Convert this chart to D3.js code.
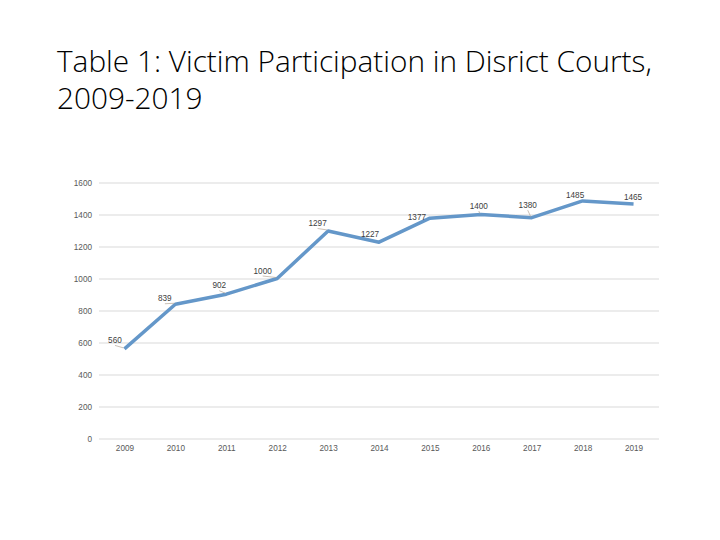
<!DOCTYPE html>
<html>
<head>
<meta charset="utf-8">
<script src="https://cdn.jsdelivr.net/npm/d3@7"></script>
<style>
  html, body { margin: 0; padding: 0; background: #fff; }
  svg { display: block; }
</style>
</head>
<body>
<svg id="chart" width="720" height="540"></svg>
<script>
// ---- data ----
const years = ["2009","2010","2011","2012","2013","2014","2015","2016","2017","2018","2019"];
const participation = [560, 839, 902, 1000, 1297, 1227, 1377, 1400, 1380, 1485, 1465];
const yTicks = [0, 200, 400, 600, 800, 1000, 1200, 1400, 1600];
const titleLines = ["Table 1: Victim Participation in Disrict Courts,", "2009-2019"];

// ---- layout (label placement offsets, not data) ----
const labelOffsets = [[-9.5,-6],[-10.5,-3],[-7,-6],[-14.5,-5],[-10.5,-5],[-9,-5],[-13,2],[-2,-6],[-4,-10],[-7.5,-3],[-0.5,-4]];
const showLeader = [true,true,true,true,true,false,false,true,true,false,false];

const svg = d3.select("#chart");
const margin = {left: 99, right: 61, top: 182.5, bottom: 101.5};
const W = 720, H = 540;

const x = d3.scalePoint().domain(years).range([margin.left, W - margin.right]).padding(0.5);
const y = d3.scaleLinear().domain([0, 1600]).range([H - margin.bottom, margin.top]);

// title
const title = svg.append("g");
const t1 = title.append("text")
  .attr("x", 57).attr("y", 72)
  .attr("font-family", "'Open Sans', sans-serif").attr("font-weight", 300)
  .attr("font-size", 30).attr("fill", "#000")
  .text(titleLines[0]);
const targetW = 595;
const w0 = t1.node().getComputedTextLength();
const fs = 30 * targetW / w0;
t1.attr("font-size", fs);
title.append("text")
  .attr("x", 57).attr("y", 109)
  .attr("font-family", "'Open Sans', sans-serif").attr("font-weight", 300)
  .attr("font-size", fs).attr("fill", "#000")
  .text(titleLines[1]);

// y axis gridlines & labels
const yAxis = d3.axisLeft(y).tickValues(yTicks).tickFormat(d3.format("d"))
  .tickSize(-(W - margin.left - margin.right)).tickPadding(7);
const gy = svg.append("g").attr("transform", `translate(${margin.left},0)`).call(yAxis);
gy.select(".domain").remove();
gy.selectAll(".tick line").attr("stroke", "#d9d9d9").attr("stroke-width", 1);
gy.selectAll(".tick text")
  .attr("font-family", "'Liberation Sans', Arial, sans-serif")
  .attr("font-size", 8.2).attr("fill", "#595959");

// x axis labels
const xAxis = d3.axisBottom(x).tickSize(0).tickPadding(7);
const gx = svg.append("g").attr("transform", `translate(0,${H - margin.bottom})`).call(xAxis);
gx.select(".domain").remove();
gx.selectAll(".tick text")
  .attr("font-family", "'Liberation Sans', Arial, sans-serif")
  .attr("font-size", 8.2).attr("fill", "#595959");

// line
const pts = years.map((yr, i) => ({yr, v: participation[i], i}));
const line = d3.line().x(d => x(d.yr)).y(d => y(d.v));
svg.append("path").datum(pts)
  .attr("d", line)
  .attr("fill", "none")
  .attr("stroke", "#6497c9")
  .attr("stroke-width", 3.5)
  .attr("stroke-linejoin", "round")
  .attr("stroke-linecap", "butt");

// leader lines
svg.append("g").selectAll("line").data(pts.filter(d => showLeader[d.i])).join("line")
  .attr("x1", d => x(d.yr) + labelOffsets[d.i][0])
  .attr("y1", d => y(d.v) + labelOffsets[d.i][1] + 2.5)
  .attr("x2", d => x(d.yr) - 1)
  .attr("y2", d => y(d.v) - 1)
  .attr("stroke", "#b3a596").attr("stroke-width", 0.7);

// data labels
svg.append("g").selectAll("text").data(pts).join("text")
  .attr("x", d => x(d.yr) + labelOffsets[d.i][0])
  .attr("y", d => y(d.v) + labelOffsets[d.i][1])
  .attr("text-anchor", "middle")
  .attr("font-family", "'Liberation Sans', Arial, sans-serif")
  .attr("font-size", 8.2).attr("fill", "#404040")
  .text(d => d.v);
</script>
</body>
</html>
